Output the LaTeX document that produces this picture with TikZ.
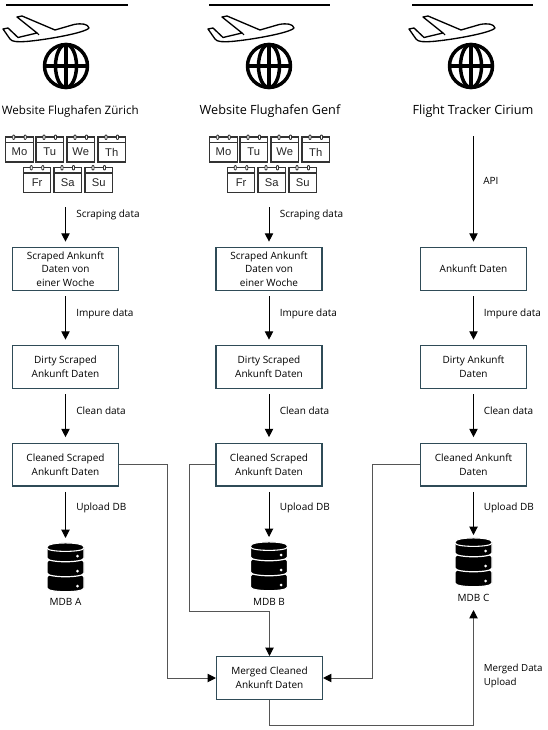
\documentclass[tikz,border=0pt]{standalone}
\usepackage{fontspec}
\setmainfont{Open Sans}
\newfontfamily\calfont{Liberation Sans}
\usetikzlibrary{arrows.meta}
\definecolor{boxline}{HTML}{2F4B57}
\definecolor{linkline}{HTML}{555555}
\tikzset{
  px/.style={x=0.75pt,y=-0.75pt},
  databox/.style={draw=boxline,line width=0.8pt,fill=white,minimum width=79.5pt,minimum height=32.2pt,inner sep=0pt,align=center,font=\fontsize{7.5}{10.2}\selectfont},
  flow/.style={draw=black,line width=0.75pt,-{Triangle[width=6.2pt,length=6.2pt]},shorten >=4pt,shorten <=4pt},
  link/.style={draw=linkline,line width=0.75pt},
  linkarrow/.style={link,-{Triangle[width=6.2pt,length=6.2pt,color=black]}},
  lab/.style={anchor=west,inner sep=0pt,font=\fontsize{7.5}{10.2}\selectfont,align=left},
  srctitle/.style={inner sep=0pt,font=\fontsize{9.5}{11}\selectfont},
  topbar/.style={draw=black,line width=1.6pt},
  caltext/.style={inner sep=0pt,font=\calfont\fontsize{8.4}{10}\selectfont,text=black!85},
}
\newcommand\planeicon[1]{%
  \begin{scope}[shift={(#1,0)}]
  \draw[black,line width=1pt,line join=round,fill=white]
    (89,28) .. controls (88,24) and (82,23) .. (74,24.5)
    -- (55,30) -- (22,16) -- (17,17) -- (37,33) -- (18,37.5) -- (8,28) -- (3,29)
    -- (10,39) .. controls (12,42) and (18,42) .. (26,41.5)
    .. controls (45,40) and (85,33) .. (89,28) -- cycle;
  \draw[black,line width=0.8pt] (37,33) -- (39,35);
  \end{scope}}
\newcommand\globeicon[1]{%
  \begin{scope}[shift={(#1,66)},line width=2.6pt,black]
  \draw (0,0) circle[radius=21.5];
  \draw (0,0) ellipse[x radius=10.5,y radius=21.5];
  \draw (0,-21.5) -- (0,21.5);
  \draw (-21.5,0) -- (21.5,0);
  \end{scope}}
\newcommand\calicon[3]{% x, y, day
  \begin{scope}[shift={(#1,#2)}]
  \draw[black!80,line width=1pt,fill=white] (0,2) rectangle (27.5,27);
  \draw[black!80,line width=0.9pt] (0,7.5) -- (27.5,7.5);
  \draw[black!80,line width=0.6pt,fill=white,rounded corners=0.6pt]
    (7,0) rectangle (9,4.5) (18.5,0) rectangle (20.5,4.5);
  \node[caltext] at (13.75,17) {#3};
  \end{scope}}
\newcommand\calweek[1]{%
  \calicon{5.7+#1}{135}{Mo}\calicon{36+#1}{135}{Tu}\calicon{67+#1}{135}{We}\calicon{98+#1}{135}{Th}%
  \calicon{23.3+#1}{165.5}{Fr}\calicon{54+#1}{165.5}{Sa}\calicon{85+#1}{165.5}{Su}}
\newcommand\dbdisk[3]{% cx, y, dot y
  \filldraw[black,draw=white,line width=0.9pt] (#1-18.5,#2+4) .. controls (#1-18.5,#2-1.5) and (#1+18.5,#2-1.5) .. (#1+18.5,#2+4)
      -- (#1+18.5,#2+15) .. controls (#1+18.5,#2+20) and (#1-18.5,#2+20) .. (#1-18.5,#2+15) -- cycle;
  \fill[white] (#1+12,#2+#3) circle[radius=1.5];}
\newcommand\dbstack[2]{% cx, top
  \dbdisk{#1}{#2+30}{13}\dbdisk{#1}{#2+15}{13}\dbdisk{#1}{#2}{13}
  \draw[white,line width=0.8pt] (#1-18.5,#2+5) .. controls (#1-18.5,#2+9.5) and (#1+18.5,#2+9.5) .. (#1+18.5,#2+5);}
\begin{document}
\begin{tikzpicture}[px]
\useasboundingbox[fill=white] (0,0) rectangle (547,730);

% top bars and icons
\draw[topbar] (6,5) -- (128,5);
\draw[topbar] (209,5) -- (330,5);
\draw[topbar] (412,5) -- (533,5);
\planeicon{0}\planeicon{205}\planeicon{406}
\globeicon{66}\globeicon{269}\globeicon{471}
\calweek{0}\calweek{204}

% source titles
\node[srctitle,font=\fontsize{8.7}{11}\selectfont,anchor=east] (t1) at (139,111) {Website Flughafen Zürich};
\node[srctitle] (t2) at (270,111) {Website Flughafen Genf};
\node[srctitle] (t3) at (473,111) {Flight Tracker Cirium};

% free connector starts
\coordinate (s1) at (65.5,202);
\coordinate (s2) at (269,202);
\coordinate (s3) at (473.5,131);

% boxes
\node[databox] (a1) at (65.5,269) {Scraped Ankunft\\Daten von\\einer Woche};
\node[databox] (a2) at (65.5,367) {Dirty Scraped\\Ankunft Daten};
\node[databox] (a3) at (65.5,464.5) {Cleaned Scraped\\Ankunft Daten};
\node[databox] (b1) at (269,269) {Scraped Ankunft\\Daten von\\einer Woche};
\node[databox] (b2) at (269,367) {Dirty Scraped\\Ankunft Daten};
\node[databox] (b3) at (269,464.5) {Cleaned Scraped\\Ankunft Daten};
\node[databox] (c1) at (473.5,269) {Ankunft Daten};
\node[databox] (c2) at (473.5,367) {Dirty Ankunft\\Daten};
\node[databox] (c3) at (473.5,464.5) {Cleaned Ankunft\\Daten};
\node[databox] (m) at (269.5,678) {Merged Cleaned\\Ankunft Daten};

% databases
\dbstack{65.5}{543}\dbstack{269}{542}\dbstack{473.5}{538}
\coordinate (dA) at (65.5,538);
\coordinate (dB) at (269,537);
\coordinate (dC) at (473.5,535);
\node[lab,anchor=center] (la) at (65.5,602) {MDB A};
\node[lab,anchor=center] (lb) at (269,602) {MDB B};
\node[lab,anchor=center] (lc) at (473.5,598) {MDB C};

% vertical flows
\draw[flow] (s1) -- (a1.north);
\draw[flow] (a1.south) -- (a2.north);
\draw[flow] (a2.south) -- (a3.north);
\draw[flow,shorten >=0pt] (a3.south) -- (dA);
\draw[flow] (s2) -- (b1.north);
\draw[flow] (b1.south) -- (b2.north);
\draw[flow] (b2.south) -- (b3.north);
\draw[flow,shorten >=0pt] (b3.south) -- (dB);
\draw[flow] (s3) -- (c1.north);
\draw[flow] (c1.south) -- (c2.north);
\draw[flow] (c2.south) -- (c3.north);
\draw[flow,shorten >=0pt] (c3.south) -- (dC);

% flow labels
\node[lab] (f1) at (76,215) {Scraping data};
\node[lab] (f2) at (76,314) {Impure data};
\node[lab] (f3) at (76,411) {Clean data};
\node[lab] (f4) at (76,508) {Upload DB};
\node[lab] (g1) at (279.5,215) {Scraping data};
\node[lab] (g2) at (279.5,314) {Impure data};
\node[lab] (g3) at (279.5,411) {Clean data};
\node[lab] (g4) at (279.5,508) {Upload DB};
\node[lab] (h1) at (483,180.5) {API};
\node[lab] (h2) at (483.5,314) {Impure data};
\node[lab] (h3) at (483.5,411) {Clean data};
\node[lab] (h4) at (483.5,508) {Upload DB};
\node[lab,font=\fontsize{7.3}{10.2}\selectfont] (h5) at (483.5,676) {Merged Data\\Upload};

% merge connectors
\coordinate (uC) at (473.5,610);
\draw[linkarrow] (a3.east) -- ++(48.5,0) |- (m.west);
\draw[linkarrow] (b3.west) -- ++(-26,0) |- (269.5,611) -- (m.north);
\draw[linkarrow] (c3.west) -- ++(-47.5,0) |- (m.east);
\draw[linkarrow] (m.south) |- (473.5,725) -- (uC);
\end{tikzpicture}
\end{document}
